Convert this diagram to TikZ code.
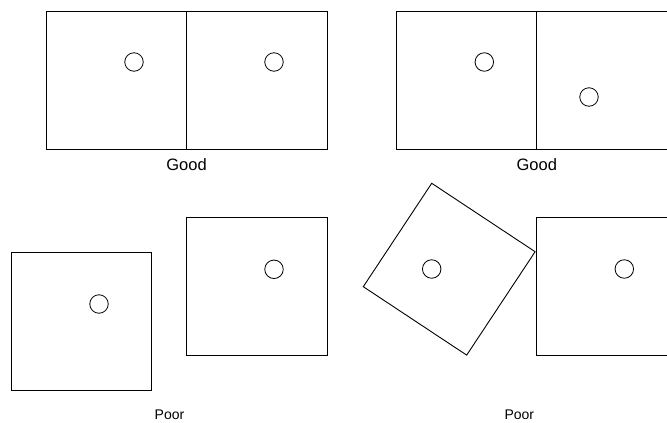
\documentclass[tikz,border=0pt]{standalone}
\usepackage{fontspec}
\setmainfont{Liberation Sans}
\begin{document}
\begin{tikzpicture}[x=1pt,y=-1pt,
  panel/.style={draw=black,line width=1pt,minimum width=140.5pt,minimum height=138pt,inner sep=0pt,outer sep=0pt},
  tilted/.style={draw=black,line width=0.9pt,minimum width=124pt,minimum height=124pt,inner sep=0pt,outer sep=0pt},
  hole/.style={circle,draw=black,line width=0.8pt,minimum size=18.5pt,inner sep=0pt},
  goodlbl/.style={font=\fontsize{16.5}{19}\selectfont},
  poorlbl/.style={font=\fontsize{14}{16}\selectfont}]
\clip (0,0) rectangle (667,423);
\fill[white] (0,0) rectangle (667,423);
% top left: Good
\node[panel,anchor=north west] (a1) at (46,11) {};
\node[panel,anchor=north west] (a2) at (186.5,11) {};
\node[hole] (ca1) at (134,62) {};
\node[hole] (ca2) at (274,62) {};
\node[goodlbl] (ga) at (186.5,165) {Good};
% top right: Good
\node[panel,anchor=north west] (b1) at (396.3,11) {};
\node[panel,anchor=north west] (b2) at (536.8,11) {};
\node[hole] (cb1) at (484.3,62) {};
\node[hole] (cb2) at (589,97) {};
\node[goodlbl] (gb) at (536.8,165) {Good};
% bottom left: Poor
\node[panel,anchor=north west] (d1) at (11,252) {};
\node[panel,anchor=north west] (d2) at (186.5,217.5) {};
\node[hole] (cd1) at (99,304) {};
\node[hole] (cd2) at (274,269.3) {};
\node[poorlbl] (pd) at (169.5,415) {Poor};
% bottom right: Poor
\node[tilted,rotate=-33.5] (e1) at (449.2,269.2) {};
\node[panel,anchor=north west] (e2) at (536.8,217.5) {};
\node[hole] (ce1) at (431.7,269) {};
\node[hole] (ce2) at (624.3,269) {};
\node[poorlbl] (pe) at (519.3,415) {Poor};
\end{tikzpicture}
\end{document}
